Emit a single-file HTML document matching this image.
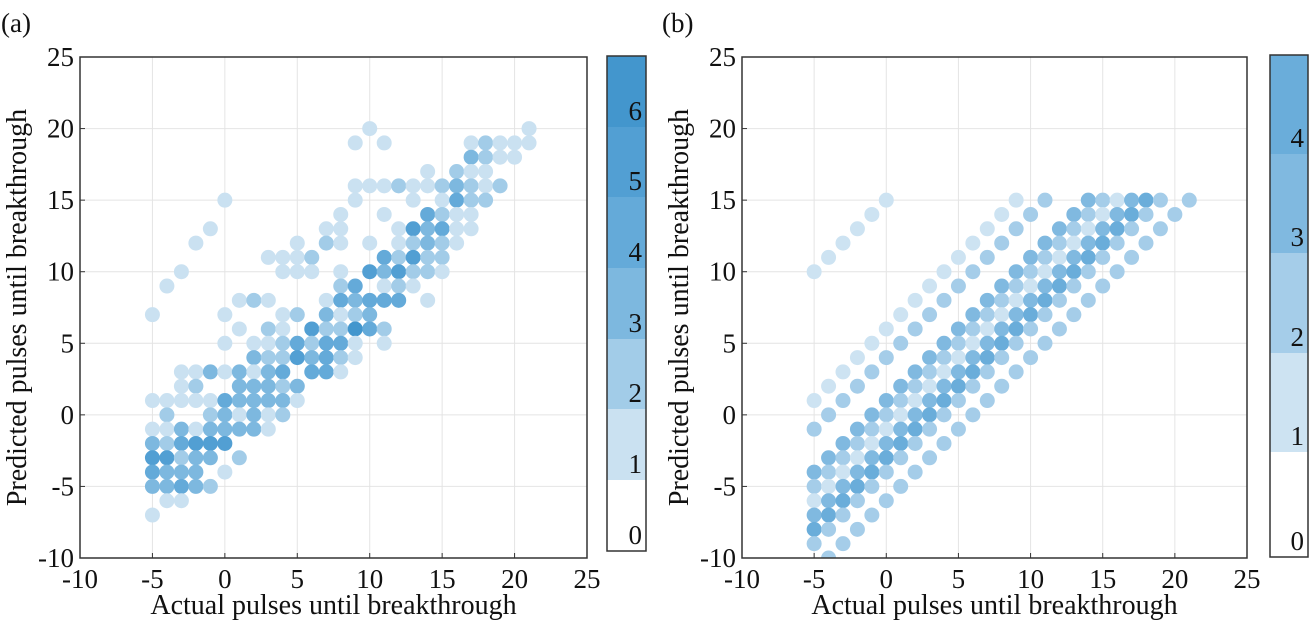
<!DOCTYPE html>
<html><head><meta charset="utf-8">
<style>
html,body{margin:0;padding:0;background:#fff;}
svg, svg text{font-family:"Liberation Serif","Times New Roman",Times,"DejaVu Serif","Noto Serif CJK SC",serif;}
</style></head>
<body>
<svg id="s" width="1312" height="624" viewBox="0 0 1312 624" xmlns="http://www.w3.org/2000/svg">
</svg>
<script>
const NS="http://www.w3.org/2000/svg";
const svg=document.getElementById('s');
function el(t,a,txt,parent){const e=document.createElementNS(NS,t);for(const k in a)e.setAttribute(k,a[k]);if(t==='text'){e.setAttribute('fill','#111');}if(txt!==undefined)e.textContent=txt;(parent||svg).appendChild(e);return e;}
const TOP=57,BOT=558;
function panel(L,R,label,labelX,dots,colors,cb){
  const sx=(R-L)/35, sy=(BOT-TOP)/35;
  const X=v=>L+(v+10)*sx, Y=v=>BOT-(v+10)*sy;
  const clipId='c'+L;
  const cp=el('clipPath',{id:clipId});el('rect',{x:L,y:TOP,width:R-L,height:BOT-TOP},undefined,cp);
  for(let v=-5;v<=20;v+=5){
    el('line',{x1:X(v),x2:X(v),y1:TOP,y2:BOT,stroke:'#e4e4e4','stroke-width':1});
    el('line',{x1:L,x2:R,y1:Y(v),y2:Y(v),stroke:'#e4e4e4','stroke-width':1});
  }
  const g=el('g',{'clip-path':'url(#'+clipId+')'});
  dots.forEach(d=>el('circle',{cx:X(d[0]),cy:Y(d[1]),r:7.5,fill:colors[d[2]]},undefined,g));
  el('rect',{x:L,y:TOP,width:R-L,height:BOT-TOP,fill:'none',stroke:'#333','stroke-width':1.5});
  for(let v=-10;v<=25;v+=5){
    el('line',{x1:X(v),x2:X(v),y1:BOT,y2:BOT-5,stroke:'#333'});
    el('line',{x1:L,x2:L+5,y1:Y(v),y2:Y(v),stroke:'#333'});
    el('text',{x:X(v),y:BOT+30,'font-size':27,'text-anchor':'middle'},String(v));
    el('text',{x:L-6,y:Y(v)+9,'font-size':27,'text-anchor':'end'},String(v));
  }
  el('text',{x:(L+R)/2,y:614,'font-size':28,'text-anchor':'middle'},'Actual pulses until breakthrough');
  el('text',{x:0,y:0,'font-size':28,'text-anchor':'middle',transform:`translate(${L-54},${(TOP+BOT)/2}) rotate(-90)`},'Predicted pulses until breakthrough');
  el('text',{x:labelX,y:32,'font-size':27},label);
  const segs=cb.segs;
  for(let i=0;i<segs.length-1;i++){
    el('rect',{x:cb.x,y:segs[i+1],width:cb.w,height:segs[i]-segs[i+1],fill:i==0?'#fff':colors[i]});
  }
  el('rect',{x:cb.x,y:segs[segs.length-1],width:cb.w,height:segs[0]-segs[segs.length-1],fill:'none',stroke:'#333','stroke-width':1.5});
  for(let i=0;i<segs.length-1;i++){
    el('text',{x:cb.x+cb.w-4,y:segs[i]-7,'font-size':27,'text-anchor':'end'},String(i));
  }
}
const A=[];
function row(y,list){list.forEach(p=>A.push([p[0],y,p[1]]));}
row(20,[[10,1],[21,1]]);
row(19,[[9,1],[11,1],[17,1],[18,2],[19,1],[20,1],[21,1]]);
row(18,[[17,3],[18,2],[19,1],[20,1]]);
row(17,[[14,1],[16,2],[17,1],[18,1]]);
row(16,[[9,1],[10,1],[11,1],[12,2],[13,1],[14,1],[15,2],[16,3],[17,2],[18,1],[19,2]]);
row(15,[[0,1],[9,1],[13,1],[15,1],[16,4],[17,2],[18,2]]);
row(14,[[8,1],[11,1],[14,4],[15,2],[16,1],[17,1]]);
row(13,[[-1,1],[7,1],[8,1],[12,1],[13,5],[14,3],[15,4],[16,1],[17,1]]);
row(12,[[-2,1],[5,1],[7,2],[8,1],[10,1],[12,1],[13,2],[14,3],[15,2],[16,1]]);
row(11,[[3,1],[4,1],[5,1],[6,2],[11,4],[12,2],[13,5],[14,2],[15,2]]);
row(10,[[-3,1],[4,1],[5,1],[6,1],[8,1],[10,5],[11,3],[12,5],[13,2],[14,2],[15,1]]);
row(9,[[-4,1],[8,2],[9,4],[11,1],[12,2],[13,1]]);
row(8,[[1,1],[2,2],[3,1],[7,1],[8,4],[9,3],[10,4],[11,4],[12,4],[14,1]]);
row(7,[[-5,1],[0,1],[4,1],[5,2],[7,3],[8,1],[9,2],[10,3]]);
row(6,[[1,1],[3,2],[4,1],[6,5],[7,2],[8,2],[9,6],[10,4],[11,2]]);
row(5,[[0,1],[2,1],[3,1],[4,2],[5,4],[6,2],[7,4],[8,4],[9,1],[11,1]]);
row(4,[[2,3],[3,2],[4,2],[5,5],[6,3],[7,4],[8,2],[9,1]]);
row(3,[[-3,1],[-2,1],[-1,3],[0,1],[1,3],[2,1],[3,3],[4,4],[6,4],[7,4],[8,1]]);
row(2,[[-3,1],[-2,2],[1,3],[2,3],[3,3],[4,2],[5,3]]);
row(1,[[-5,1],[-4,1],[-3,1],[-2,1],[-1,1],[0,4],[1,3],[2,3],[3,3],[4,3],[5,1]]);
row(0,[[-4,2],[-1,2],[0,3],[1,1],[2,3],[3,1],[4,2]]);
row(-1,[[-5,1],[-4,1],[-3,3],[-2,1],[-1,3],[0,3],[1,3],[2,3],[3,1]]);
row(-2,[[-5,3],[-4,2],[-3,4],[-2,5],[-1,5],[0,5]]);
row(-3,[[-5,5],[-4,5],[-3,2],[-2,3],[-1,3],[1,2]]);
row(-4,[[-5,4],[-4,3],[-3,3],[-2,3],[0,1]]);
row(-5,[[-5,3],[-4,3],[-3,4],[-2,3],[-1,2]]);
row(-6,[[-4,1],[-3,1]]);
row(-7,[[-5,1]]);
const colA=['#fff','#cae1f1','#a2cce8','#7db8df','#64aad9','#529fd3','#4396cd'];
panel(80,587,'(a)',1,A,colA,{x:607,w:39,segs:[551,480,409,339,268,197,127,56]});
const B=[];
const bands=[[6,1],[4,2],[1,3],[0,2],[-1,1],[-2,3],[-3,4],[-4,2],[-6,2]];
for(let x=-5;x<=21;x++){
  bands.forEach(b=>{const y=x+b[0];if(y>=-10.5&&y<=15)B.push([x,y,b[1]]);});
}
for(let x=-5;x<=0;x++)B.push([x,x+15,1]);
const colB=['#fff','#cde3f2','#a5cde9','#80b9e0','#6aadda'];
panel(742,1247,'(b)',662,B,colB,{x:1270,w:38,segs:[557,452,353,253,154,55]});
</script>
</body></html>
